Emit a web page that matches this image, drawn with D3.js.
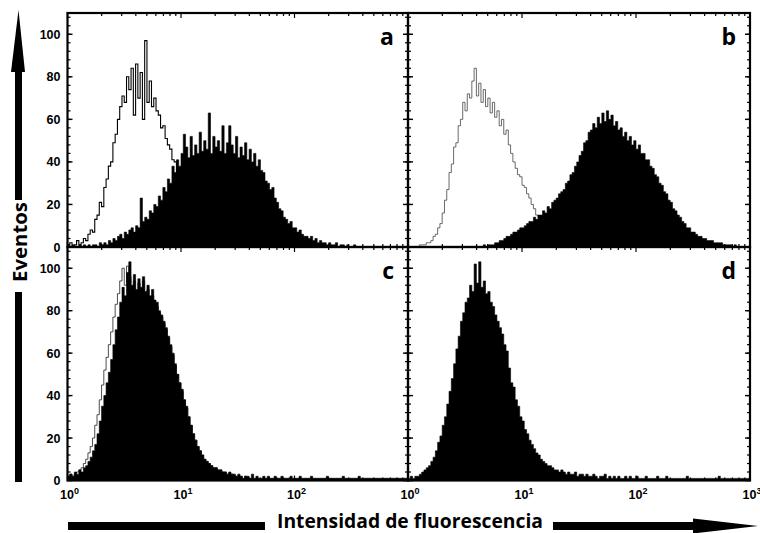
<!DOCTYPE html>
<html>
<head>
<meta charset="utf-8">
<script src="https://cdn.jsdelivr.net/npm/d3@7"></script>
<style>
  html, body { margin: 0; background: #fff; overflow: hidden; }
  svg { display: block; }
</style>
</head>
<body>
<script>
//histogram channels: 50 bins per decade, 150 bins from 10^0 to 10^3
var binsPerDecade = 50;

//panel a
var aOpen = [
  1,2,0,1,3,1,2,4,3,6,
  8,7,13,15,21,19,28,32,38,40,
  49,53,60,66,71,68,80,74,84,62,
  86,70,82,60,97,68,78,66,70,64,
  62,56,57,51,48,46,41,40,35,33,
  30,27,25,22,20,18,15,13,11,10,
  8,7,6,5,4,3,3,2,2,1,
  1,0,1,0,0,1,0,0,0,0,
  0,0,0,0,0,0,0,0,0,0,
  0,0,0,0,0,0,0,0,0,0,
  0,0,0,0,0,0,0,0,0,0,
  0,0,0,0,0,0,0,0,0,0,
  0,0,0,0,0,0,0,0,0,0,
  0,0,0,0,0,0,0,0,0,0,
  0,0,0,0,0,0,0,0,0,0];
var aFill = [
  1,0,1,0,0,1,0,1,0,1,
  0,1,1,0,2,1,2,1,3,2,
  4,3,5,6,4,7,6,8,9,7,
  10,9,23,12,14,13,17,16,20,19,
  24,22,28,26,32,30,38,35,41,38,
  44,53,47,42,52,43,48,44,54,45,
  50,46,63,44,52,47,50,45,57,44,
  49,57,48,44,52,42,47,43,49,41,
  46,40,44,38,41,36,35,31,30,27,
  28,23,21,18,17,14,13,11,12,9,
  9,7,8,6,5,5,4,5,3,4,
  2,3,2,2,1,2,1,1,2,0,
  1,1,0,1,0,0,1,0,0,0,
  0,0,0,0,0,0,0,0,0,0,
  0,0,0,0,0,0,0,0,0,0];

//panel b
var bOpen = [
  0,0,0,0,0,1,1,1,2,2,
  3,5,6,9,11,16,22,27,35,39,
  47,49,57,60,68,64,72,70,78,84,
  71,77,68,74,66,70,63,68,61,64,
  57,60,53,55,48,44,40,37,34,33,
  29,28,25,23,20,18,15,14,12,11,
  10,9,8,7,6,5,4,4,3,2,
  2,1,1,1,0,0,0,0,0,0,
  0,0,0,0,0,0,0,0,0,0,
  0,0,0,0,0,0,0,0,0,0,
  0,0,0,0,0,0,0,0,0,0,
  0,0,0,0,0,0,0,0,0,0,
  0,0,0,0,0,0,0,0,0,0,
  0,0,0,0,0,0,0,0,0,0,
  0,0,0,0,0,0,0,0,0,0];
var bFill = [
  0,0,0,0,0,0,0,0,0,0,
  0,0,0,0,0,0,0,0,0,0,
  0,0,0,0,0,0,0,0,0,0,
  0,0,0,1,0,1,1,1,2,2,
  3,3,4,5,5,6,7,7,8,9,
  9,10,11,12,12,14,13,15,15,17,
  16,19,18,21,22,23,25,26,27,30,
  31,34,35,38,40,43,45,49,50,54,
  55,58,56,61,58,63,59,64,60,62,
  57,59,55,56,52,54,50,52,48,50,
  46,48,44,44,41,41,38,37,34,33,
  30,29,26,25,22,21,18,17,15,14,
  12,11,9,9,7,7,6,5,5,4,
  4,3,3,3,2,2,2,2,1,1,
  1,1,0,1,0,0,0,0,0,0];

//panel c
var cOpen = [
  2,3,2,3,4,5,6,8,10,13,
  16,20,26,31,38,45,52,58,64,70,
  77,83,88,94,100,92,101,96,90,94,
  88,93,89,94,87,90,85,87,83,82,
  79,77,74,71,67,63,59,54,50,46,
  42,38,34,30,26,22,19,16,14,12,
  10,9,8,7,6,6,5,5,4,4,
  3,3,3,2,2,2,2,1,2,1,
  1,1,1,1,1,1,1,1,1,1,
  1,1,1,1,1,1,1,1,1,1,
  1,1,1,1,1,1,1,1,1,1,
  1,1,1,1,1,1,1,1,1,1,
  1,1,1,1,1,1,1,1,1,1,
  1,1,1,1,1,1,1,1,1,1,
  1,1,1,1,1,1,1,1,1,1];
var cFill = [
  2,3,2,4,3,5,4,6,7,9,
  11,14,17,22,28,35,40,46,51,57,
  64,71,77,84,91,87,98,103,92,97,
  90,95,91,96,89,92,87,90,85,84,
  80,78,75,72,68,64,60,55,50,46,
  43,38,35,30,26,22,19,16,14,12,
  10,9,8,7,6,6,5,5,4,4,
  3,4,3,3,2,3,2,1,2,2,
  1,3,1,2,1,1,2,1,2,1,
  1,2,1,1,2,1,1,1,2,1,
  1,1,2,1,1,1,1,2,1,1,
  1,1,1,1,2,1,1,1,1,1,
  1,2,1,1,1,1,1,1,2,1,
  1,1,1,1,1,1,1,1,1,1,
  1,1,1,1,1,1,1,1,1,1];

//panel d
var dFill = [
  1,2,1,2,2,3,4,5,6,7,
  9,11,14,18,21,26,30,36,42,48,
  55,62,68,75,79,84,86,92,89,102,
  93,103,91,94,88,89,84,82,78,75,
  72,69,64,61,53,46,44,38,35,30,
  28,24,22,19,17,15,13,12,10,9,
  8,7,7,6,5,5,4,5,4,3,
  4,3,3,4,2,3,3,2,3,2,
  2,3,2,1,2,2,3,1,2,1,
  2,1,2,1,1,2,1,2,1,1,
  2,1,1,1,2,1,1,1,1,2,
  1,1,1,2,1,1,1,1,1,1,
  1,1,2,1,1,1,1,1,1,1,
  1,1,1,1,1,1,2,1,1,1,
  1,1,1,1,1,1,1,1,1,1];

var panelLetters = ["a", "b", "c", "d"];
var yTicks = [0, 20, 40, 60, 80, 100];
var xDecades = [1, 10, 100, 1000];
var xTitle = "Intensidad de fluorescencia";
var yTitle = "Eventos";

//page and frame dimensions
var width = 760,
    height = 533;
var colX = [67.5, 408, 750],
    rowY = [13, 247, 480.5];

var svg = d3.select("body")
    .append("svg")
    .attr("width", width)
    .attr("height", height);

var panels = [
    {letter: panelLetters[0], col: 0, row: 0, open: aOpen, fill: aFill, openColor: "#000", openWidth: 1.1},
    {letter: panelLetters[1], col: 1, row: 0, open: bOpen, fill: bFill, openColor: "#444", openWidth: 0.8},
    {letter: panelLetters[2], col: 0, row: 1, open: cOpen, fill: cFill, openColor: "#222", openWidth: 0.8},
    {letter: panelLetters[3], col: 1, row: 1, open: null, fill: dFill}
];

//turn bin values into step points
function toPoints(vals){
    var pts = vals.map(function(v, i){
        return {x: Math.pow(10, i / binsPerDecade), v: v};
    });
    pts.push({x: Math.pow(10, vals.length / binsPerDecade), v: vals[vals.length - 1]});
    return pts;
}

panels.forEach(function(p, k){
    var x0 = colX[p.col], x1 = colX[p.col + 1],
        y0 = rowY[p.row], y1 = rowY[p.row + 1];

    var x = d3.scaleLog().domain([1, 1000]).range([x0, x1]);
    var y = d3.scaleLinear().domain([0, 110]).range([y1, y0]);

    var g = svg.append("g").attr("class", "panel");

    //clip to frame
    svg.append("clipPath").attr("id", "clip" + k)
        .append("rect")
        .attr("x", x0).attr("y", y0)
        .attr("width", x1 - x0).attr("height", y1 - y0);

    var plot = g.append("g").attr("clip-path", "url(#clip" + k + ")");

    if (p.open){
        var line = d3.line()
            .curve(d3.curveStepAfter)
            .x(function(d){ return x(d.x); })
            .y(function(d){ return y(d.v); });
        plot.append("path")
            .datum(toPoints(p.open))
            .attr("fill", "none")
            .attr("stroke", p.openColor)
            .attr("stroke-width", p.openWidth)
            .attr("d", line);
    }

    var area = d3.area()
        .curve(d3.curveStepAfter)
        .x(function(d){ return x(d.x); })
        .y0(y(0))
        .y1(function(d){ return y(d.v); });
    plot.append("path")
        .datum(toPoints(p.fill))
        .attr("fill", "#000")
        .attr("stroke", "#000")
        .attr("stroke-width", 0.6)
        .attr("d", area);

    //log ticks on top and bottom, pointing inward
    var xt = x.ticks();
    g.selectAll(".xtb")
        .data(xt)
        .enter()
        .append("line")
        .attr("x1", function(d){ return x(d); })
        .attr("x2", function(d){ return x(d); })
        .attr("y1", y1)
        .attr("y2", function(d){ return y1 - (xDecades.indexOf(d) >= 0 ? 5 : 3); })
        .attr("stroke", "#000").attr("stroke-width", 1.2);
    g.selectAll(".xtt")
        .data(xt)
        .enter()
        .append("line")
        .attr("x1", function(d){ return x(d); })
        .attr("x2", function(d){ return x(d); })
        .attr("y1", y0)
        .attr("y2", function(d){ return y0 + (xDecades.indexOf(d) >= 0 ? 5 : 3); })
        .attr("stroke", "#000").attr("stroke-width", 1.2);

    //y ticks on left and right, pointing inward
    var yt = d3.range(0, 110, 4);
    [x0, x1].forEach(function(edge, side){
        var dir = side === 0 ? 1 : -1;
        g.selectAll(".ytm" + side)
            .data(yt)
            .enter()
            .append("line")
            .attr("x1", edge)
            .attr("x2", edge + dir * 3)
            .attr("y1", function(d){ return y(d); })
            .attr("y2", function(d){ return y(d); })
            .attr("stroke", "#000").attr("stroke-width", 1.2);
        g.selectAll(".ytM" + side)
            .data(yTicks)
            .enter()
            .append("line")
            .attr("x1", edge)
            .attr("x2", edge + dir * 5)
            .attr("y1", function(d){ return y(d); })
            .attr("y2", function(d){ return y(d); })
            .attr("stroke", "#000").attr("stroke-width", 1.4);
    });

    //frame
    g.append("rect")
        .attr("x", x0).attr("y", y0)
        .attr("width", x1 - x0).attr("height", y1 - y0)
        .attr("fill", "none")
        .attr("stroke", "#000")
        .attr("stroke-width", 2.2);

    //y labels on left column
    if (p.col === 0){
        g.selectAll(".ylab")
            .data(yTicks)
            .enter()
            .append("text")
            .attr("x", x0 - 7)
            .attr("y", function(d){ return y(d); })
            .attr("dy", "0.36em")
            .attr("text-anchor", "end")
            .style("font", "bold 12.5px 'Liberation Sans', Arial, sans-serif")
            .text(function(d){ return d; });
    }

    //x labels on bottom row
    if (p.row === 1){
        var xl = p.col === 0 ? xDecades.slice(0, 3) : xDecades;
        var lab = g.selectAll(".xlab")
            .data(xl)
            .enter()
            .append("text")
            .attr("x", function(d){ return x(d) + 2; })
            .attr("y", y1 + 18)
            .attr("text-anchor", "middle")
            .style("font", "bold 12.5px 'Liberation Sans', Arial, sans-serif");
        lab.append("tspan").text("10");
        lab.append("tspan")
            .attr("dy", -5)
            .style("font-size", "9px")
            .text(function(d){ return Math.round(Math.log10(d)); });
    }

    //panel letter
    g.append("text")
        .attr("x", x1 - 14)
        .attr("y", y0 + 32)
        .attr("text-anchor", "end")
        .style("font", "bold 23px 'Open Sans', sans-serif")
        .text(p.letter);
});

//vertical axis arrow and title
var arrowY = d3.scaleLinear().domain([0, 1]).range([482, 10]);
svg.append("rect")
    .attr("x", 15).attr("y", 292)
    .attr("width", 7).attr("height", arrowY(0) - 292)
    .attr("fill", "#000");
svg.append("rect")
    .attr("x", 15).attr("y", 72)
    .attr("width", 7).attr("height", 200 - 72)
    .attr("fill", "#000");
svg.append("path")
    .attr("d", "M11,72 L25,72 L18.5," + arrowY(1) + " Z")
    .attr("fill", "#000");
svg.append("text")
    .attr("transform", "translate(27,242) rotate(-90)")
    .attr("text-anchor", "middle")
    .attr("textLength", 80)
    .attr("lengthAdjust", "spacingAndGlyphs")
    .style("font", "bold 19px 'Open Sans', sans-serif")
    .text(yTitle);

//horizontal axis arrow and title
svg.append("rect")
    .attr("x", 68).attr("y", 522)
    .attr("width", 265 - 68).attr("height", 8)
    .attr("fill", "#000");
svg.append("rect")
    .attr("x", 553).attr("y", 522)
    .attr("width", 693 - 553).attr("height", 8)
    .attr("fill", "#000");
svg.append("path")
    .attr("d", "M693,518.5 L758,526 L693,533.5 Z")
    .attr("fill", "#000");
svg.append("text")
    .attr("x", 410).attr("y", 528)
    .attr("text-anchor", "middle")
    .attr("textLength", 266)
    .attr("lengthAdjust", "spacingAndGlyphs")
    .style("font", "bold 19px 'Open Sans', sans-serif")
    .text(xTitle);
</script>
</body>
</html>
